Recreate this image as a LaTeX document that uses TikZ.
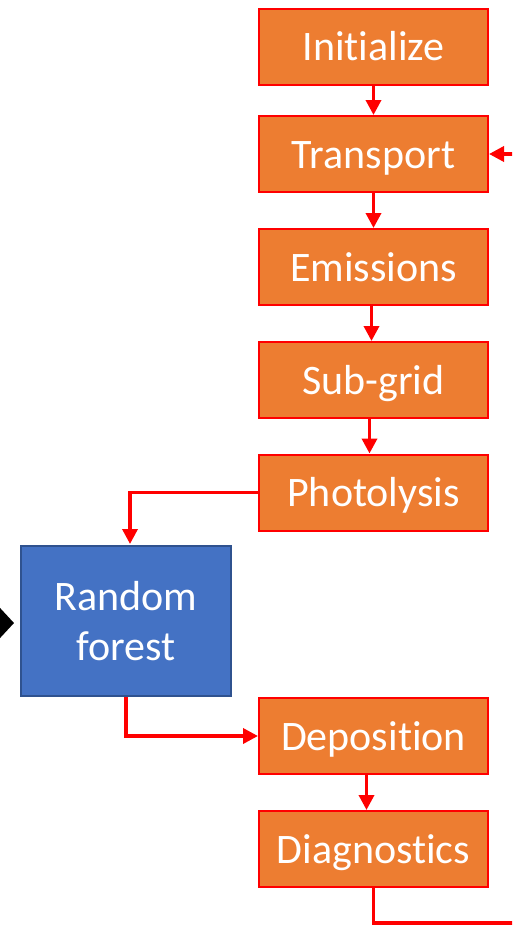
\documentclass[tikz,border=0pt]{standalone}
\usepackage{fontspec}
\setmainfont[Ligatures={NoCommon}]{Carlito}
\usetikzlibrary{arrows.meta}
\definecolor{boxorange}{HTML}{ED7D31}
\definecolor{boxblue}{HTML}{4472C4}
\definecolor{blueedge}{HTML}{2F528F}
\definecolor{linkred}{HTML}{FF0000}
\begin{document}
\begin{tikzpicture}[x=1pt,y=-1pt,
  stepbox/.style={draw=linkred,line width=2pt,fill=boxorange,text=white,
    minimum width=229pt,minimum height=76pt,inner sep=0pt,
    text height=32pt,text depth=4pt,
    font=\fontsize{42}{48}\selectfont},
  rfbox/.style={draw=blueedge,line width=2pt,fill=boxblue,text=white,
    minimum width=210pt,minimum height=150pt,inner sep=0pt,align=center,
    font=\fontsize{42}{50}\selectfont},
  link/.style={draw=linkred,line width=3.5pt,-{Triangle[length=15pt,width=15pt]},color=linkred},
  plain/.style={draw=linkred,line width=3.5pt}]
\useasboundingbox (0,0) rectangle (512,926);
\clip (0,0) rectangle (512,926);
\node[stepbox] (init) at (373.5,46.5) {Initialize};
\node[stepbox] (trans) at (373.5,154) {Transport};
\node[stepbox] (emis) at (373.5,267) {Emissions};
\node[stepbox] (sub) at (373.5,380) {Sub-grid};
\node[stepbox] (photo) at (373.5,492.5) {Photolysis};
\node[stepbox] (dep) at (373.5,736) {Deposition};
\node[stepbox] (diag) at (373.5,849) {Diagnostics};
\node[rfbox] (rf) at (126,621) {Random\\forest};
\draw[link] (init.south) -- (trans.north);
\draw[link] (trans.south) -- (emis.north);
\draw[link] ([xshift=-2pt]emis.south) -- ([xshift=-2pt]sub.north);
\draw[link] ([xshift=-4pt]sub.south) -- ([xshift=-4pt]photo.north);
\draw[link] ([xshift=-7pt]dep.south) -- ([xshift=-7pt]diag.north);
\draw[link] (photo.west) -| (130,544);
\draw[link] (rf.south) |- (dep.west);
\coordinate (offr) at (540,923);
\coordinate (offtop) at (540,154);
\draw[plain] (diag.south) |- (offr);
\draw[link] (offtop) -- (trans.east);
\coordinate (blkstart) at (-40,623);
\coordinate (blkend) at (14,623);
\draw[line width=3pt,black,-{Triangle[length=17pt,width=36pt]}] (blkstart) -- (blkend);
\end{tikzpicture}
\end{document}
